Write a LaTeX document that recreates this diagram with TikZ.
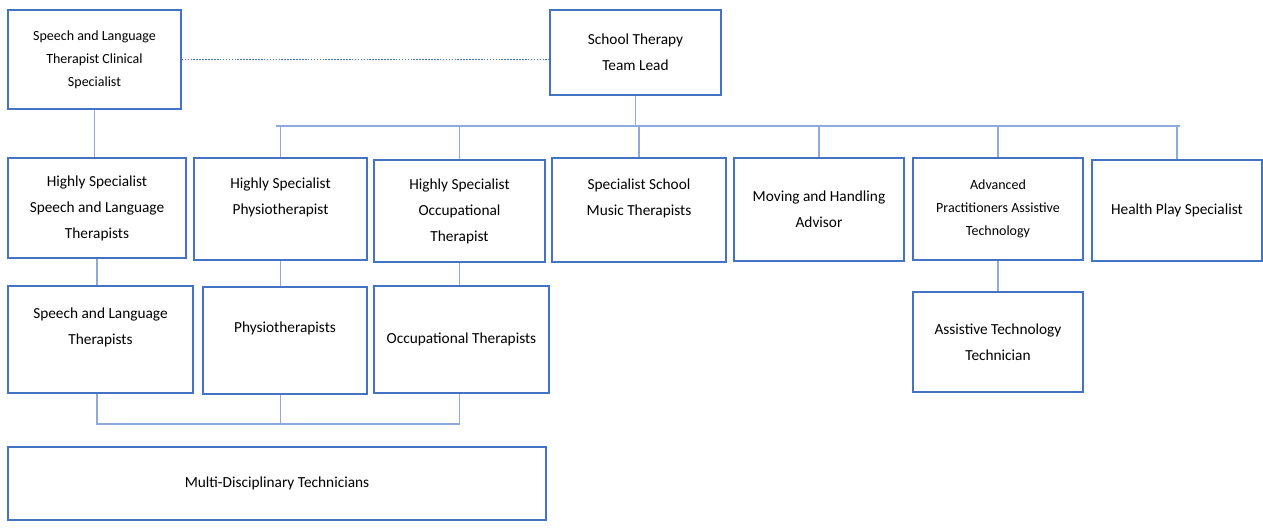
\documentclass[tikz,border=0pt]{standalone}
\usepackage{fontspec}
\setmainfont{Carlito}
\usepackage{xcolor}
\usepackage{tikz}
\usetikzlibrary{positioning,calc}

\definecolor{boxblue}{HTML}{4472C4}
\definecolor{linkblue}{HTML}{8EA9DB}

\begin{document}
\begin{tikzpicture}[
    x=0.75pt, y=-0.75pt,
    box/.style={rectangle, draw=boxblue, line width=1.1pt, inner sep=2pt, align=center, font=\fontsize{11.5}{19.5}\selectfont},
    small/.style={font=\fontsize{10.5}{17.3}\selectfont},
    wh/.style 2 args={minimum width=#1*0.75pt, minimum height=#2*0.75pt},
    link/.style={draw=linkblue, line width=0.8pt},
    dotlink/.style={draw=boxblue, line width=1pt, dash pattern=on 1.2pt off 1pt}
]
\useasboundingbox (0,0) rectangle (1263,530);

% Top level
\node[box, small, wh={173}{99}] (sltcs) at (94.5,59.5) {Speech and Language\\Therapist Clinical\\Specialist};
\node[box, wh={171}{85}] (lead) at (635.5,52.5) {School Therapy\\Team Lead};

% Specialist row
\node[box, wh={178}{100}] (hsslt) at (97,208) {Highly Specialist\\Speech and Language\\Therapists};
\node[box, wh={173}{102}] (hsphy) at (280.5,209) {Highly Specialist\\Physiotherapist\\\mbox{}};
\node[box, wh={171}{102}] (hsot) at (459.5,211) {Highly Specialist\\Occupational\\Therapist};
\node[box, wh={174}{104}] (ssmt) at (639,210) {Specialist School\\Music Therapists\\\mbox{}};
\node[box, wh={170}{103}] (mha) at (819,209.5) {Moving and Handling\\Advisor};
\node[box, small, wh={170}{102}] (apat) at (998,209) {Advanced\\Practitioners Assistive\\Technology};
\node[box, wh={170}{101}] (hps) at (1177,210.5) {Health Play Specialist};

% Therapist row
\node[box, wh={185}{107}] (slt) at (100.5,339.5) {Speech and Language\\Therapists\\\mbox{}};
\node[box, wh={164}{107}] (phy) at (285,340.5) {Physiotherapists\\\mbox{}};
\node[box, wh={175}{107}] (ot) at (461.5,339.5) {Occupational Therapists};
\node[box, wh={170}{100}] (att) at (998,342) {Assistive Technology\\Technician};

% Technicians
\node[box, wh={538}{73}] (mdt) at (277,483.5) {Multi-Disciplinary Technicians};

% Buses
\coordinate (bus) at (636,126);
\coordinate (busL) at (276,126);
\coordinate (busR) at (1180,126);
\coordinate (mbus) at (0,424);

% Connectors
\draw[dotlink] (sltcs.east) -- (sltcs.east -| lead.west);
\draw[link] (lead.south) -- (lead.south |- bus);
\draw[link] (busL) -- (busR);
\foreach \n in {hsphy,hsot,ssmt,mha,apat,hps}
    \draw[link] (\n.north |- bus) -- (\n.north);
\draw[link] (sltcs.south) -- (sltcs.south |- hsslt.north);
\draw[link] (hsslt.south) -- (hsslt.south |- slt.north);
\draw[link] (hsphy.south) -- (hsphy.south |- phy.north);
\draw[link] (hsot.south) -- (hsot.south |- ot.north);
\draw[link] (apat.south) -- (apat.south |- att.north);
\draw[link] (slt.south -| hsslt.south) -- (hsslt.south |- mbus) -- (hsot.south |- mbus) -- (hsot.south |- ot.south);
\draw[link] (hsphy.south |- phy.south) -- (hsphy.south |- mbus);

\end{tikzpicture}
\end{document}
